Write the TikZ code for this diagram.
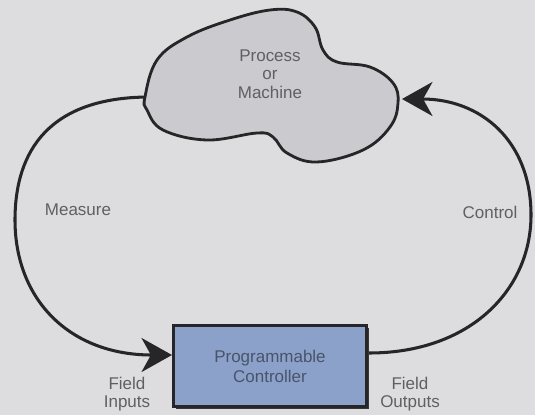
\documentclass[tikz,border=0pt]{standalone}
\usepackage{fontspec}
\setmainfont{Liberation Sans}
\usetikzlibrary{arrows.meta,shadows}

\definecolor{paper}{RGB}{221,221,223}
\definecolor{ink}{RGB}{38,38,40}
\definecolor{cloudgray}{RGB}{203,203,207}
\definecolor{plcblue}{RGB}{140,161,201}
\definecolor{plctext}{RGB}{72,84,108}
\definecolor{lbltext}{RGB}{96,96,98}

\begin{document}
\begin{tikzpicture}[x=0.03cm,y=-0.03cm,font=\fontsize{14.5}{16}\selectfont,
  loop/.style={line width=2.6pt,draw=ink,-{Stealth[length=26pt,width=29pt,inset=8pt]}},
  lbl/.style={text=lbltext,align=center},
  plcbox/.style={draw=ink,line width=2.4pt,fill=plcblue,text=plctext,align=center,
    minimum width=5.8cm,minimum height=2.44cm,font=\fontsize{14.5}{17}\selectfont,
    drop shadow={shadow xshift=2pt,shadow yshift=-2pt,fill=ink,opacity=0.9}}]

\fill[paper] (0,0) rectangle (535,415);
\useasboundingbox (0,0) rectangle (535,415);

%ends of the loop
\coordinate (proc-out) at (150,97);
\coordinate (proc-in) at (402,99);
\coordinate (plc-in) at (172,355);
\coordinate (plc-out) at (369,353);

%Measure / Control
\draw[loop] (proc-out) .. controls (50,97) and (15,150) .. (15,220)
  .. controls (15,300) and (70,355) .. (plc-in);
\draw[loop] (plc-out) .. controls (470,353) and (531,290) .. (531,215)
  .. controls (531,140) and (480,99) .. (proc-in);

%process cloud
\draw[line width=2.4pt,draw=ink,fill=cloudgray] plot[smooth cycle,tension=0.65] coordinates {
  (145,97) (157,60) (187,37) (230,20) (270,10) (297,12) (315,27) (323,50)
  (337,62) (370,67) (393,83) (398,103) (390,127) (363,150) (317,162)
  (287,153) (273,137) (257,133) (207,140) (163,130) (147,110)};
\node[lbl,font=\fontsize{14.5}{15.7}\selectfont] (proc) at (270,74) {Process\\or\\Machine};

%controller
\node[plcbox] (plc) at (270,366) {Programmable\\Controller};

\node[lbl] (meas) at (78,210) {Measure};
\node[lbl] (ctrl) at (490,212) {Control};
\node[lbl] (fin) at (127,394) {Field\\Inputs};
\node[lbl] (fout) at (410,394) {Field\\Outputs};

\end{tikzpicture}
\end{document}
